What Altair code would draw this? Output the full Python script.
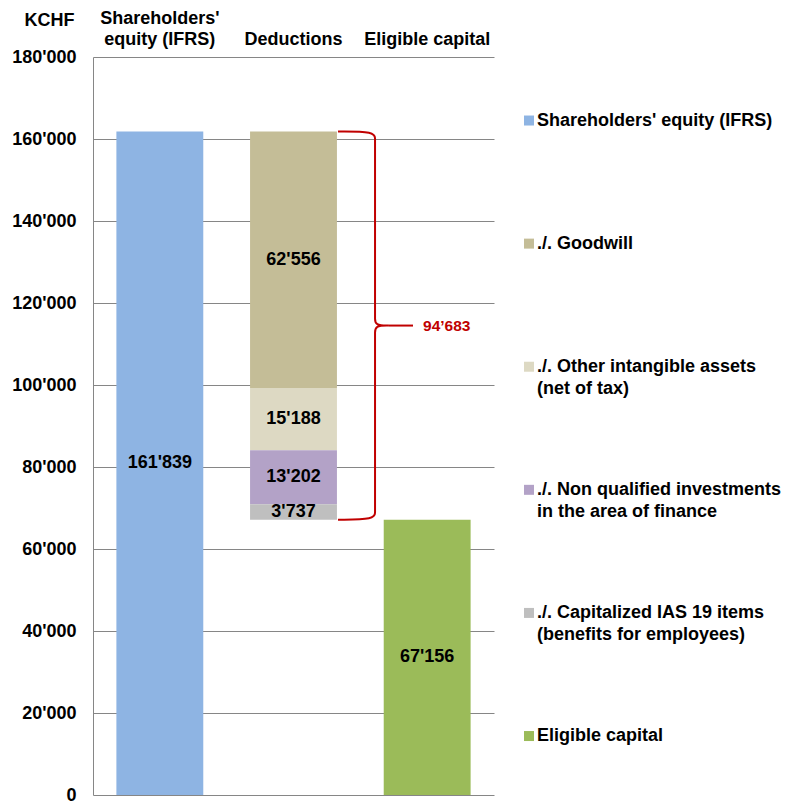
import altair as alt
import pandas as pd

# ---------------- data ----------------
categories = ["Shareholders'|equity (IFRS)", "Deductions", "Eligible capital"]
segments = [
    "Shareholders' equity (IFRS)",
    "./. Goodwill",
    "./. Other intangible assets (net of tax)",
    "./. Non qualified investments in the area of finance",
    "./. Capitalized IAS 19 items (benefits for employees)",
    "Eligible capital",
]
segment_category = [0, 1, 1, 1, 1, 2]
amounts = [161839, 62556, 15188, 13202, 3737, 67156]
colors = ["#8EB4E3", "#C4BD97", "#DDD9C3", "#B3A2C7", "#BFBFBF", "#9BBB59"]
legend_line1 = [
    "Shareholders' equity (IFRS)",
    "./. Goodwill",
    "./. Other intangible assets",
    "./. Non qualified investments",
    "./. Capitalized IAS 19 items",
    "Eligible capital",
]
legend_line2 = ["", "", "(net of tax)", "in the area of finance", "(benefits for employees)", ""]
y_ticks = [0, 20000, 40000, 60000, 80000, 100000, 120000, 140000, 160000, 180000]

FONT = "Liberation Sans"
RED = "#C00000"
GRID = "#868686"

# ---------------- build tables ----------------
rows = []
ded_top = amounts[0]
for seg, ci, amt in zip(segments, segment_category, amounts):
    if ci == 1:
        end = ded_top
        start = ded_top - amt
        ded_top = start
    else:
        start, end = 0, amt
    rows.append({
        "category": categories[ci],
        "segment": seg,
        "start": start,
        "end": end,
        "label": f"{amt:,}".replace(",", "'"),
    })
df = pd.DataFrame(rows)

T = amounts[0]
B = amounts[-1]
M = (T + B) / 2
c = 2000  # brace corner size in data units

# brace geometry (x in category units of the 3-band axis)
xs, xv, xt, xl, xlab = 1.833, 2.11, 2.214, 2.394, 2.469
brace_pts = [
    (xs, T), (xv, T),
    (xv, T - c), (xv, T - c), (xv, T - c),
    (xv, M + c), (xv, M + c), (xv, M + c),
    (xv, M),
    (xt, M), (xt, M), (xt, M),
    (xv, M),
    (xv, M - c), (xv, M - c), (xv, M - c),
    (xv, B + c), (xv, B + c), (xv, B + c),
    (xv, B), (xs, B),
]
brace_df = pd.DataFrame([{"idx": i, "bx": x, "by": y} for i, (x, y) in enumerate(brace_pts)])
leader_df = pd.DataFrame([{"bx": xt, "bx2": xl, "by": M}])
blabel_df = pd.DataFrame([{"bx": xlab, "by": M, "text": f"{T - B:,}".replace(",", "\u2019")}])

# ---------------- encodings ----------------
yscale = alt.Scale(domain=[0, 180000], nice=False, zero=True)
yaxis = alt.Axis(
    values=y_ticks,
    labelExpr="replace(format(datum.value, ','), ',', \"'\")",
    title="KCHF",
    titleAngle=0,
    titleAlign="center",
    titleBaseline="alphabetic",
    titleX=-44,
    titleY=-32,
    titleFontSize=18,
    titleFontWeight="bold",
    titleColor="black",
    titleFont=FONT,
    labelFont=FONT,
    labelFontSize=18,
    labelFontWeight="bold",
    labelColor="black",
    labelPadding=17,
    ticks=False,
    tickSize=0,
    domainColor=GRID,
    gridColor=GRID,
    gridWidth=1,
)
xscale = alt.Scale(domain=categories, paddingInner=0.35, paddingOuter=0.175)
xaxis = alt.Axis(
    orient="top",
    title=None,
    labelExpr="indexof(datum.label, '|') < 0 ? split('|' + datum.label, '|') : split(datum.label, '|')",
    labelAngle=0,
    labelFont=FONT,
    labelFontSize=18,
    labelFontWeight="bold",
    labelColor="black",
    labelLineHeight=21,
    labelBaseline="bottom",
    labelPadding=30,
    domain=False,
    ticks=False,
    tickSize=0,
    grid=False,
)
bscale = alt.Scale(domain=[0, 3], nice=False, zero=False)
cscale = alt.Scale(domain=segments, range=colors)

bars = alt.Chart(df).mark_bar().encode(
    x=alt.X("category:N", scale=xscale, sort=categories, axis=xaxis),
    y=alt.Y("start:Q", scale=yscale, axis=yaxis),
    y2="end:Q",
    color=alt.Color("segment:N", scale=cscale, legend=None),
)
labels = alt.Chart(df).transform_calculate(
    mid="(datum.start + datum.end) / 2"
).mark_text(font=FONT, fontSize=18, fontWeight="bold", color="black").encode(
    x=alt.X("category:N", scale=xscale, sort=categories, axis=None),
    y=alt.Y("mid:Q", scale=yscale, axis=yaxis),
    text="label:N",
)
brace = alt.Chart(brace_df).mark_line(color=RED, strokeWidth=2, interpolate="basis").encode(
    x=alt.X("bx:Q", scale=bscale, axis=None),
    y=alt.Y("by:Q", scale=yscale, axis=yaxis),
    order="idx:Q",
)
leader = alt.Chart(leader_df).mark_rule(color=RED, strokeWidth=2).encode(
    x=alt.X("bx:Q", scale=bscale, axis=None),
    x2="bx2:Q",
    y=alt.Y("by:Q", scale=yscale, axis=yaxis),
)
blabel = alt.Chart(blabel_df).mark_text(
    font=FONT, fontSize=15.5, fontWeight="bold", color=RED, align="left", baseline="middle"
).encode(
    x=alt.X("bx:Q", scale=bscale, axis=None),
    y=alt.Y("by:Q", scale=yscale, axis=yaxis),
    text="text:N",
)

main = alt.layer(bars, labels, brace, leader, blabel).resolve_scale(x="independent").properties(
    width=401, height=738
)

# ---------------- legend ----------------
leg_df = pd.DataFrame({
    "idx": list(range(len(segments))),
    "segment": segments,
    "line1": legend_line1,
    "line2": legend_line2,
})
lyscale = alt.Scale(domain=[-0.516, 5.479], reverse=True, nice=False, zero=False)
lsq = alt.Chart(leg_df).mark_square(size=100, opacity=1).encode(
    x=alt.value(15),
    y=alt.Y("idx:Q", scale=lyscale, axis=None),
    color=alt.Color("segment:N", scale=cscale, legend=None),
)
lt1 = alt.Chart(leg_df).mark_text(
    font=FONT, fontSize=18, fontWeight="bold", color="black", align="left", baseline="middle"
).encode(x=alt.value(23), y=alt.Y("idx:Q", scale=lyscale, axis=None), text="line1:N")
lt2 = alt.Chart(leg_df).mark_text(
    font=FONT, fontSize=18, fontWeight="bold", color="black", align="left", baseline="middle", dy=22
).encode(x=alt.value(23), y=alt.Y("idx:Q", scale=lyscale, axis=None), text="line2:N")
legend = alt.layer(lsq, lt1, lt2).properties(width=270, height=738)

chart = alt.hconcat(main, legend, spacing=20).properties(
    padding={"left": 11, "top": 9, "right": 0, "bottom": 0},
    background="white",
).configure(font=FONT).configure_view(strokeWidth=0, stroke="transparent")

chart.save("out.html", embed_options={"renderer": "svg", "actions": False})
